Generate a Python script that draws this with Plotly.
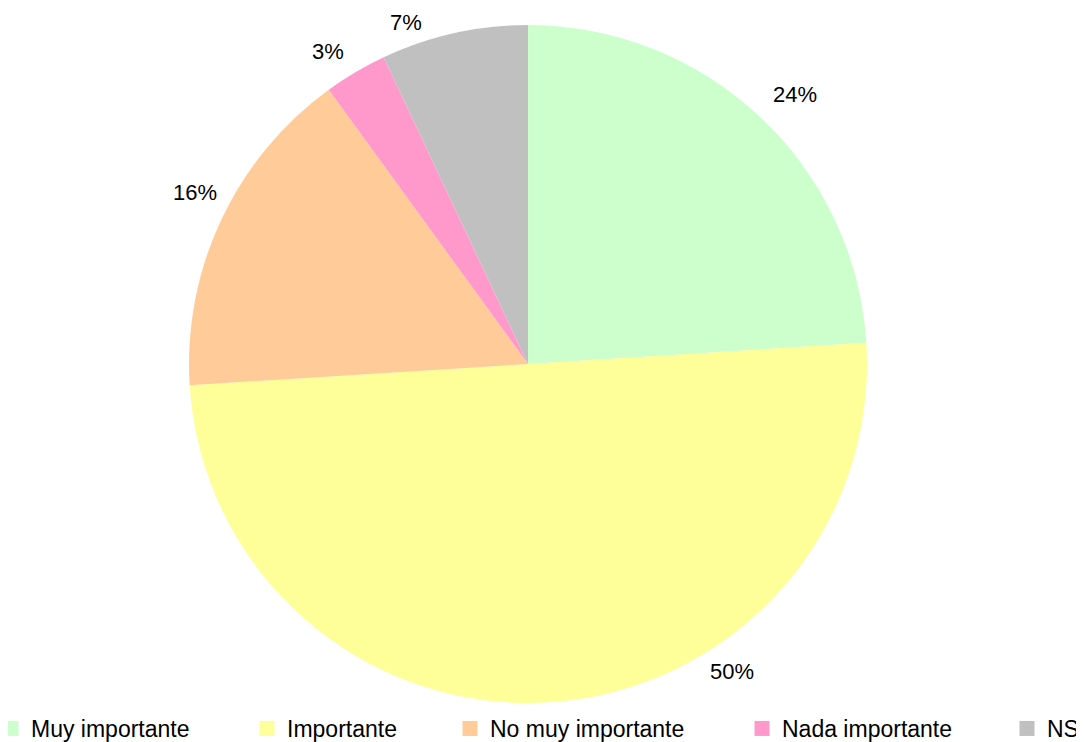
import math
import plotly.graph_objects as go

categories = ["Muy importante", "Importante", "No muy importante", "Nada importante", "NS"]
values = [24, 50, 16, 3, 7]
colors = ["#CCFFCC", "#FFFF99", "#FFCC99", "#FF99CC", "#C0C0C0"]

W, H = 1084, 742
PAGE_OFF = 8  # default body margin of the html page
cx_px, cy_px, r_px = 528 - PAGE_OFF, 364 - PAGE_OFF, 339
dom_x = [(cx_px - r_px) / W, (cx_px + r_px) / W]
dom_y = [1 - (cy_px + r_px) / H, 1 - (cy_px - r_px) / H]

fig = go.Figure(go.Pie(
    labels=categories, values=values, sort=False, direction="clockwise",
    rotation=0, marker=dict(colors=colors, line=dict(width=0)),
    textinfo="none", hoverinfo="label+percent", showlegend=False,
    domain=dict(x=dom_x, y=dom_y),
))

# percentage labels outside the slices, at each slice's mid-angle,
# with small nudges (degrees along the rim, radius factor) as in the original layout
label_nudge = {
    "Muy importante": (1.5, 1.12),
    "Importante": (-30, 1.09),
    "No muy importante": (2, 1.105),
    "Nada importante": (-2, 1.095),
    "NS": (-7, 1.07),
}
total = sum(values)
cum = 0
for name, v in zip(categories, values):
    d_deg, r_fac = label_nudge.get(name, (0, 1.10))
    mid = (cum + v / 2) / total * 360 + d_deg
    cum += v
    a = math.radians(mid)
    px = cx_px + r_px * r_fac * math.sin(a)
    py = cy_px - r_px * r_fac * math.cos(a)
    fig.add_annotation(x=px / W, y=1 - py / H, xref="paper", yref="paper",
                       xanchor="center", yanchor="middle",
                       text=f"{round(v / total * 100)}%", showarrow=False,
                       font=dict(size=22, color="#000000"))

# legend: one small legend per category so the entries sit where the original has them
legend_text_x = [31, 287, 490, 782, 1047]  # left edge of each legend text, px
legend_layout = {}
for i, (name, col) in enumerate(zip(categories, colors)):
    key = "legend" if i == 0 else f"legend{i + 1}"
    fig.add_trace(go.Scatter(
        x=[None], y=[None], mode="markers", name=name, legend=key,
        marker=dict(symbol="square", size=15, color=col), hoverinfo="skip",
    ))
    legend_layout[key] = dict(
        orientation="h", x=(legend_text_x[i] - PAGE_OFF - 40) / W, y=0,
        xanchor="left", yanchor="bottom", font=dict(size=23),
        itemwidth=30, bgcolor="rgba(0,0,0,0)",
    )

fig.update_layout(
    width=W, height=H,
    margin=dict(l=0, r=0, t=0, b=0, autoexpand=False),
    paper_bgcolor="white", plot_bgcolor="white",
    font=dict(family="Liberation Sans, Arial, sans-serif", size=21, color="#000000"),
    xaxis=dict(visible=False), yaxis=dict(visible=False),
    **legend_layout,
)

fig.write_html("out.html")
